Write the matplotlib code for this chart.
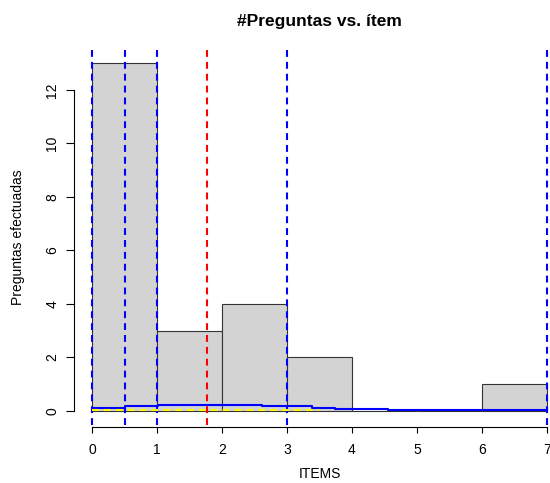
import numpy as np
import matplotlib
matplotlib.use("Agg")
import matplotlib.pyplot as plt

plt.rcParams['font.family'] = ['Liberation Sans', 'DejaVu Sans']

# histogram data
bin_edges = [0, 1, 2, 3, 4, 5, 6, 7]
counts = [13, 3, 4, 2, 0, 0, 1]

# reference lines
quartiles = [0, 0.5, 1, 3, 7]
mean_val = 1.77

# blue step curve near the bottom
curve_x = [0, 0.51, 1.01, 2.61, 3.38, 3.74, 4.15, 4.55, 5.28, 7]
curve_y = [0.13, 0.17, 0.24, 0.17, 0.13, 0.09, 0.07, 0.05, 0.03, 0.03]

# yellow dashed line
yel_x = [0, 3.5]
yel_y = [0.02, 0.02]

fig = plt.figure(figsize=(5.5, 4.83), dpi=100)
ax = fig.add_axes([73.8/550, 58.1/483, 491.4/550, 375.6/483])

lefts = bin_edges[:-1]
widths = np.diff(bin_edges)
ax.bar(lefts, counts, width=widths, align='edge', color='#d3d3d3',
       edgecolor='#333333', linewidth=0.8)

dash = (0, (3.3, 2.4))
for q in quartiles:
    ax.axvline(q, color='blue', lw=1.5, linestyle=dash)
ax.axvline(mean_val, color='red', lw=1.5, linestyle=dash)

ax.step(curve_x, curve_y, where='post', color='blue', lw=1.5)
ax.plot(yel_x, yel_y, color='yellow', lw=1.5, linestyle=dash)

ax.set_xlim(-0.28, 7.28)
ax.set_ylim(-0.52, 13.52)

for s in ['top', 'right']:
    ax.spines[s].set_visible(False)
ax.spines['left'].set_bounds(0, 12)
ax.spines['bottom'].set_bounds(0, 7)
ax.spines['bottom'].set_position(('outward', 1.5))
ax.spines['left'].set_linewidth(0.8)
ax.spines['bottom'].set_linewidth(0.8)

ax.set_xticks(range(0, 8))
ax.set_yticks(range(0, 13, 2))
ax.tick_params(direction='out', width=0.8, labelsize=10)
ax.tick_params(axis='x', length=4.5, pad=7)
ax.tick_params(axis='y', length=5.5, pad=5, labelrotation=90)
for lab in ax.get_yticklabels():
    lab.set_va('center')

ax.set_xlabel('ITEMS', fontsize=10, va='center')
ax.xaxis.set_label_coords(0.5, -0.132)
ax.set_ylabel('Preguntas efectuadas', fontsize=10, va='center')
ax.yaxis.set_label_coords(-0.1136, 0.5)
ax.set_title('#Preguntas vs. ítem', fontsize=12.5, fontweight='bold', pad=17)

fig.savefig('out.png', dpi=100)
